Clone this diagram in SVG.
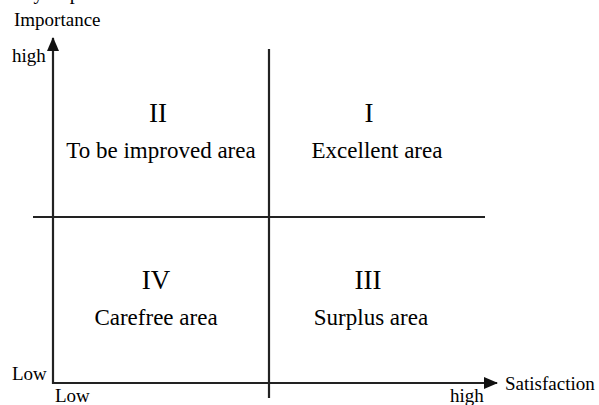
<svg xmlns="http://www.w3.org/2000/svg" width="599" height="405" viewBox="0 0 599 405">
<style>
text{font-family:"Liberation Serif","Times New Roman",serif;fill:#000}
.ax{stroke:#222;stroke-width:2.2;fill:none}
.q{font-size:23px;text-anchor:middle}
.n{font-size:27px;text-anchor:middle}
.l{font-size:19px}
</style>
<defs>
<marker id="ah2" markerWidth="14" markerHeight="12" refX="13" refY="6" orient="auto" markerUnits="userSpaceOnUse" viewBox="0 0 14 12"><path d="M0,0 L14,6 L0,12 Z" fill="#111"/></marker>
</defs>
<rect width="599" height="405" fill="#fff"/>
<text x="8" y="-1" style="font-size:20px">very important</text>
<g id="connectors">
<line class="ax" x1="53" y1="384" x2="53" y2="38" marker-end="url(#ah2)"/>
<line class="ax" x1="52" y1="383" x2="497" y2="383" marker-end="url(#ah2)"/>
<line class="ax" x1="269" y1="49" x2="269" y2="398"/>
<line class="ax" x1="33" y1="217" x2="485" y2="217"/>
</g>
<g id="axis-labels">
<text class="l" x="14" y="26">Importance</text>
<text class="l" x="12" y="62">high</text>
<text class="l" x="12" y="380">Low</text>
<text class="l" x="55" y="402">Low</text>
<text class="l" x="450" y="402">high</text>
<text class="l" x="505" y="390">Satisfaction</text>
</g>
<g id="q2"><text class="n" x="158" y="122">II</text><text class="q" x="161" y="158">To be improved area</text></g>
<g id="q1"><text class="n" x="369" y="122">I</text><text class="q" x="377" y="158">Excellent area</text></g>
<g id="q4"><text class="n" x="156" y="289">IV</text><text class="q" x="156" y="325">Carefree area</text></g>
<g id="q3"><text class="n" x="368" y="289">III</text><text class="q" x="371" y="325">Surplus area</text></g>
</svg>
